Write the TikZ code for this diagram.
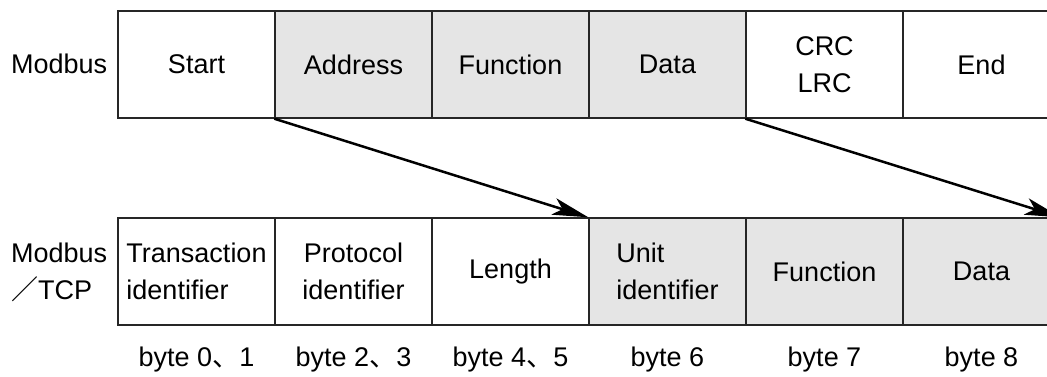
\documentclass[tikz,border=0pt]{standalone}
\usepackage{fontspec}
\setmainfont{Liberation Sans}
\newfontfamily\jp{Noto Sans CJK JP}
\usetikzlibrary{arrows.meta}
\tikzset{
  cell/.style={draw=black!85, line width=1.4pt, minimum width=157pt, minimum height=107pt, inner sep=0pt, align=center, font=\fontsize{27}{37}\selectfont},
  shaded/.style={cell, fill=black!10},
  plain/.style={cell, fill=white},
  lbl/.style={inner sep=0pt, font=\fontsize{27}{37}\selectfont, align=left},
  arr/.style={line width=2.5pt, -{Stealth[length=36pt, width=17pt, inset=9pt]}}
}
\begin{document}
\begin{tikzpicture}[x=1pt,y=-1pt]
\useasboundingbox (0,0) rectangle (1047,376);
% top row
\node[plain]  (t1) at (196.5,64.5) {Start};
\node[shaded] (t2) at (353.5,64.5) {Address};
\node[shaded] (t3) at (510.5,64.5) {Function};
\node[shaded] (t4) at (667.5,64.5) {Data};
\node[plain]  (t5) at (824.5,64.5) {CRC\\LRC};
\node[plain]  (t6) at (981.5,64.5) {End};
% bottom row
\node[plain, align=left]  (b1) at (196.5,271.5) {Transaction\\identifier};
\node[plain]  (b2) at (353.5,271.5) {Protocol\\identifier};
\node[plain]  (b3) at (510.5,271.5) {Length};
\node[shaded, align=left] (b4) at (667.5,271.5) {Unit\\identifier};
\node[shaded] (b5) at (824.5,271.5) {Function};
\node[shaded] (b6) at (981.5,271.5) {Data};
% row labels
\node[lbl, anchor=west] (m1) at (11,64) {Modbus};
\node[lbl, anchor=west] (m2) at (11,272) {Modbus\\{\jp ／}TCP};
% byte labels
\node[lbl] (y1) at (196.5,360) {byte 0{\jp 、}1};
\node[lbl] (y2) at (353.5,360) {byte 2{\jp 、}3};
\node[lbl] (y3) at (510.5,360) {byte 4{\jp 、}5};
\node[lbl] (y4) at (667.5,360) {byte 6};
\node[lbl] (y5) at (824.5,360) {byte 7};
\node[lbl] (y6) at (981.5,360) {byte 8};
% arrows
\draw[arr] (t2.south west) -- (b4.north west);
\draw[arr] (t5.south west) -- (b6.north east);
\end{tikzpicture}
\end{document}
